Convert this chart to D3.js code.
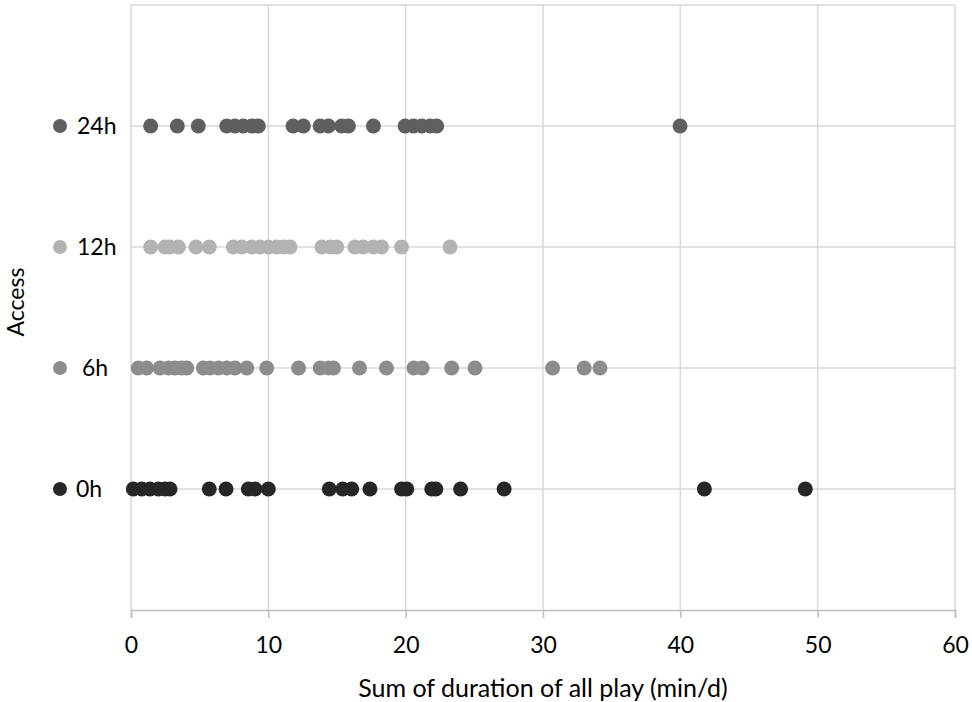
<!DOCTYPE html>
<html>
<head>
<meta charset="utf-8">
<script src="https://cdn.jsdelivr.net/npm/d3@7"></script>
<style>
  body { margin: 0; background: #fff; }
  text { font-family: Lato, "Open Sans", sans-serif; fill: #000; }
</style>
</head>
<body>
<svg width="972" height="702"></svg>
<script>
// Categories (bottom to top) and their y position on the value axis
var groups = ["0h", "6h", "12h", "24h"];
var groupPos = [1, 2, 3, 4];
var groupColors = ["#262626", "#8c8c8c", "#b3b3b3", "#5f5f5f"];

// Sum of duration of all play (min/d)
var play0h = [0.17, 0.78, 1.38, 1.99, 2.48, 2.84, 5.7, 6.92, 8.54, 9.03, 10.0,
              14.44, 15.42, 16.07, 17.4, 19.7, 20.08, 21.9, 22.2, 24.0, 27.17, 41.75, 49.1];
var play6h = [0.53, 1.14, 2.11, 2.72, 3.2, 3.69, 4.06, 5.27, 5.75, 6.36, 6.97, 7.57, 8.43,
              9.88, 12.2, 13.77, 14.37, 14.74, 16.64, 18.6, 20.6, 21.2, 23.35, 25.05, 30.7, 33.0, 34.15];
var play12h = [1.43, 2.48, 2.84, 3.45, 4.73, 5.7, 7.45, 8.06, 8.79, 9.4, 10.0, 10.6, 11.1,
               11.58, 13.9, 14.5, 14.98, 16.3, 16.9, 17.65, 18.25, 19.7, 23.23];
var play24h = [1.43, 3.37, 4.9, 6.97, 7.57, 8.18, 8.79, 9.27, 11.8, 12.55, 13.77, 14.37,
               15.34, 15.83, 17.65, 19.96, 20.57, 21.17, 21.78, 22.26, 39.98];

var xTicks = [0, 10, 20, 30, 40, 50, 60];

var seriesValues = [play0h, play6h, play12h, play24h];

var svg = d3.select("svg"),
    margin = {top: 5, right: 17, bottom: 92, left: 131},
    width = +svg.attr("width") - margin.left - margin.right,
    height = +svg.attr("height") - margin.top - margin.bottom;

var x = d3.scaleLinear().domain([0, 60]).range([0, width]);
var y = d3.scaleLinear().domain([0, 5]).range([height, 0]);

var g = svg.append("g")
    .attr("transform", "translate(" + margin.left + "," + margin.top + ")");

// Vertical gridlines
g.append("g")
  .selectAll("line")
  .data(xTicks)
  .enter().append("line")
    .attr("x1", function(d) { return x(d); })
    .attr("x2", function(d) { return x(d); })
    .attr("y1", 0)
    .attr("y2", height)
    .attr("stroke", "#d9d9d9")
    .attr("stroke-width", 1.5);

// Horizontal gridlines at 1..5
g.append("g")
  .selectAll("line")
  .data([1, 2, 3, 4, 5])
  .enter().append("line")
    .attr("x1", 0)
    .attr("x2", width)
    .attr("y1", function(d) { return y(d); })
    .attr("y2", function(d) { return y(d); })
    .attr("stroke", "#d9d9d9")
    .attr("stroke-width", 1.5);

// X axis
var xAxis = g.append("g")
    .attr("transform", "translate(0," + height + ")")
    .call(d3.axisBottom(x).tickValues(xTicks).tickSize(8).tickPadding(19));
xAxis.select(".domain").attr("stroke", "#bfbfbf").attr("stroke-width", 1.5);
xAxis.selectAll(".tick line").attr("stroke", "#bfbfbf").attr("stroke-width", 1.5);
xAxis.selectAll(".tick text")
    .attr("font-size", "23px")
    .style("font-family", "Lato, 'Open Sans', sans-serif")
    .attr("fill", "#000");

// Points
var rows = g.append("g")
  .selectAll("g")
  .data(groups)
  .enter().append("g");

rows.selectAll("circle")
  .data(function(d, i) {
    return seriesValues[i].map(function(v) { return {v: v, i: i}; });
  })
  .enter().append("circle")
    .attr("cx", function(d) { return x(d.v); })
    .attr("cy", function(d) { return y(groupPos[d.i]); })
    .attr("r", 7.5)
    .attr("fill", function(d) { return groupColors[d.i]; });

// Category labels with their markers
var labels = svg.append("g")
  .selectAll("g")
  .data(groups)
  .enter().append("g")
    .attr("transform", function(d, i) {
      return "translate(0," + (margin.top + y(groupPos[i])) + ")";
    });

labels.append("circle")
    .attr("cx", 60)
    .attr("cy", 0)
    .attr("r", 7)
    .attr("fill", function(d, i) { return groupColors[i]; });

labels.append("text")
    .attr("x", function(d) { return d === "6h" ? 82 : (d === "0h" ? 76 : 77); })
    .attr("dy", "0.35em")
    .attr("font-size", "23px")
    .text(function(d) { return d; });

// Axis titles
svg.append("text")
    .attr("x", margin.left + width / 2)
    .attr("y", 697)
    .attr("text-anchor", "middle")
    .attr("font-size", "25px")
    .text("Sum of duration of all play (min/d)");

svg.append("text")
    .attr("transform", "translate(24,302) rotate(-90)")
    .attr("text-anchor", "middle")
    .attr("font-size", "23px")
    .text("Access");
</script>
</body>
</html>
